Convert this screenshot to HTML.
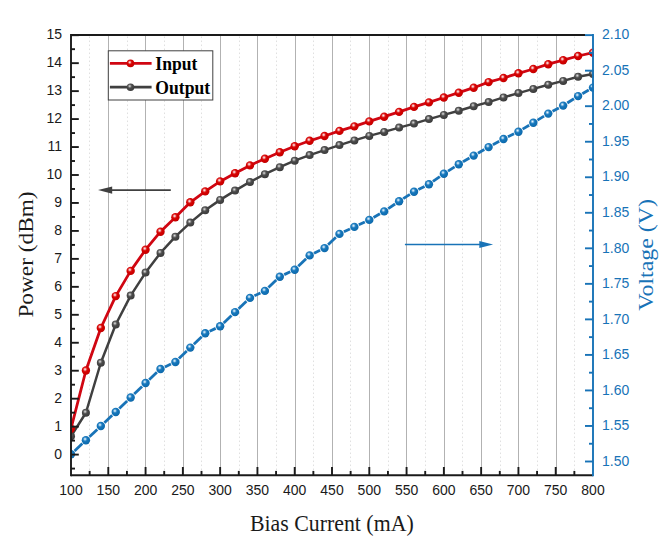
<!DOCTYPE html>
<html><head><meta charset="utf-8"><title>chart</title>
<style>
html,body{margin:0;padding:0;background:#fff;}
body{width:668px;height:545px;overflow:hidden;font-family:"Liberation Sans",sans-serif;}
svg{display:block;}
.t{font-family:"Liberation Sans",sans-serif;font-size:14px;}
.s{font-family:"Liberation Serif",serif;}
</style></head><body>
<svg width="668" height="545" viewBox="0 0 668 545">
<defs>
<radialGradient id="gr" cx="0.40" cy="0.36" r="0.66"><stop offset="0" stop-color="#fff0f0"/><stop offset="0.14" stop-color="#f4b0b0"/><stop offset="0.34" stop-color="#dc2020"/><stop offset="0.5" stop-color="#d40000"/><stop offset="0.85" stop-color="#cc0000"/><stop offset="1" stop-color="#b80000"/></radialGradient>
<radialGradient id="gg" cx="0.40" cy="0.36" r="0.66"><stop offset="0" stop-color="#e0e0e0"/><stop offset="0.14" stop-color="#b0b0b0"/><stop offset="0.34" stop-color="#606060"/><stop offset="0.5" stop-color="#484848"/><stop offset="0.85" stop-color="#404040"/><stop offset="1" stop-color="#343434"/></radialGradient>
<radialGradient id="gb" cx="0.40" cy="0.36" r="0.66"><stop offset="0" stop-color="#e8f4fc"/><stop offset="0.14" stop-color="#a8d0ec"/><stop offset="0.34" stop-color="#2a84c4"/><stop offset="0.5" stop-color="#1474b8"/><stop offset="0.85" stop-color="#0e6eb2"/><stop offset="1" stop-color="#0a60a0"/></radialGradient>
<clipPath id="cp"><rect x="71.00" y="35.00" width="522.80" height="440.30"/></clipPath>
</defs>
<rect width="668" height="545" fill="#fff"/>
<line x1="89.50" y1="36.50" x2="89.50" y2="475.30" stroke="#e0e0e0" stroke-width="1" stroke-dasharray="1.6,2.4"/>
<line x1="127.50" y1="36.50" x2="127.50" y2="475.30" stroke="#e0e0e0" stroke-width="1" stroke-dasharray="1.6,2.4"/>
<line x1="164.50" y1="36.50" x2="164.50" y2="475.30" stroke="#e0e0e0" stroke-width="1" stroke-dasharray="1.6,2.4"/>
<line x1="201.50" y1="36.50" x2="201.50" y2="475.30" stroke="#e0e0e0" stroke-width="1" stroke-dasharray="1.6,2.4"/>
<line x1="239.50" y1="36.50" x2="239.50" y2="475.30" stroke="#e0e0e0" stroke-width="1" stroke-dasharray="1.6,2.4"/>
<line x1="276.50" y1="36.50" x2="276.50" y2="475.30" stroke="#e0e0e0" stroke-width="1" stroke-dasharray="1.6,2.4"/>
<line x1="313.50" y1="36.50" x2="313.50" y2="475.30" stroke="#e0e0e0" stroke-width="1" stroke-dasharray="1.6,2.4"/>
<line x1="350.50" y1="36.50" x2="350.50" y2="475.30" stroke="#e0e0e0" stroke-width="1" stroke-dasharray="1.6,2.4"/>
<line x1="388.50" y1="36.50" x2="388.50" y2="475.30" stroke="#e0e0e0" stroke-width="1" stroke-dasharray="1.6,2.4"/>
<line x1="425.50" y1="36.50" x2="425.50" y2="475.30" stroke="#e0e0e0" stroke-width="1" stroke-dasharray="1.6,2.4"/>
<line x1="462.50" y1="36.50" x2="462.50" y2="475.30" stroke="#e0e0e0" stroke-width="1" stroke-dasharray="1.6,2.4"/>
<line x1="500.50" y1="36.50" x2="500.50" y2="475.30" stroke="#e0e0e0" stroke-width="1" stroke-dasharray="1.6,2.4"/>
<line x1="537.50" y1="36.50" x2="537.50" y2="475.30" stroke="#e0e0e0" stroke-width="1" stroke-dasharray="1.6,2.4"/>
<line x1="574.50" y1="36.50" x2="574.50" y2="475.30" stroke="#e0e0e0" stroke-width="1" stroke-dasharray="1.6,2.4"/>
<line x1="108.50" y1="35.00" x2="108.50" y2="475.30" stroke="#b2b2b2" stroke-width="1"/>
<line x1="145.50" y1="35.00" x2="145.50" y2="475.30" stroke="#b2b2b2" stroke-width="1"/>
<line x1="183.50" y1="35.00" x2="183.50" y2="475.30" stroke="#b2b2b2" stroke-width="1"/>
<line x1="220.50" y1="35.00" x2="220.50" y2="475.30" stroke="#b2b2b2" stroke-width="1"/>
<line x1="257.50" y1="35.00" x2="257.50" y2="475.30" stroke="#b2b2b2" stroke-width="1"/>
<line x1="295.50" y1="35.00" x2="295.50" y2="475.30" stroke="#b2b2b2" stroke-width="1"/>
<line x1="332.50" y1="35.00" x2="332.50" y2="475.30" stroke="#b2b2b2" stroke-width="1"/>
<line x1="369.50" y1="35.00" x2="369.50" y2="475.30" stroke="#b2b2b2" stroke-width="1"/>
<line x1="406.50" y1="35.00" x2="406.50" y2="475.30" stroke="#b2b2b2" stroke-width="1"/>
<line x1="444.50" y1="35.00" x2="444.50" y2="475.30" stroke="#b2b2b2" stroke-width="1"/>
<line x1="481.50" y1="35.00" x2="481.50" y2="475.30" stroke="#b2b2b2" stroke-width="1"/>
<line x1="518.50" y1="35.00" x2="518.50" y2="475.30" stroke="#b2b2b2" stroke-width="1"/>
<line x1="556.50" y1="35.00" x2="556.50" y2="475.30" stroke="#b2b2b2" stroke-width="1"/>
<g clip-path="url(#cp)"><g stroke="#1873b7" stroke-width="2.8" fill="none"><line x1="74.57" y1="450.90" x2="82.34" y2="443.60"/><line x1="89.46" y1="436.86" x2="97.29" y2="429.39"/><line x1="104.40" y1="422.65" x2="112.17" y2="415.35"/><line x1="119.26" y1="408.58" x2="127.14" y2="400.92"/><line x1="134.17" y1="394.08" x2="142.06" y2="386.42"/><line x1="149.14" y1="379.65" x2="156.91" y2="372.35"/><line x1="164.92" y1="366.92" x2="170.96" y2="364.08"/><line x1="178.93" y1="358.60" x2="186.79" y2="351.00"/><line x1="193.85" y1="344.21" x2="201.69" y2="336.69"/><line x1="209.66" y1="331.22" x2="215.71" y2="328.38"/><line x1="223.69" y1="322.92" x2="231.51" y2="315.48"/><line x1="238.61" y1="308.72" x2="246.42" y2="301.28"/><line x1="254.41" y1="295.82" x2="260.45" y2="292.98"/><line x1="268.43" y1="287.52" x2="276.25" y2="280.08"/><line x1="284.24" y1="274.62" x2="290.28" y2="271.78"/><line x1="298.25" y1="266.31" x2="306.09" y2="258.79"/><line x1="314.03" y1="253.25" x2="320.14" y2="250.25"/><line x1="328.09" y1="244.72" x2="335.91" y2="237.28"/><line x1="343.89" y1="231.82" x2="349.94" y2="228.98"/><line x1="358.81" y1="224.82" x2="364.85" y2="221.98"/><line x1="373.54" y1="217.47" x2="379.94" y2="213.83"/><line x1="388.24" y1="208.63" x2="395.07" y2="203.97"/><line x1="403.25" y1="198.57" x2="409.90" y2="194.33"/><line x1="418.41" y1="189.50" x2="424.57" y2="186.40"/><line x1="432.95" y1="181.38" x2="439.85" y2="176.52"/><line x1="448.00" y1="171.09" x2="454.63" y2="166.91"/><line x1="463.00" y1="161.83" x2="469.45" y2="158.07"/><line x1="477.94" y1="153.17" x2="484.34" y2="149.53"/><line x1="492.91" y1="144.76" x2="499.21" y2="141.34"/><line x1="507.92" y1="136.85" x2="514.03" y2="133.85"/><line x1="522.62" y1="129.17" x2="529.15" y2="125.23"/><line x1="537.53" y1="120.15" x2="544.07" y2="116.15"/><line x1="552.58" y1="111.28" x2="558.85" y2="107.92"/><line x1="567.30" y1="102.97" x2="573.95" y2="98.73"/><line x1="582.34" y1="93.67" x2="588.74" y2="90.03"/></g><circle cx="71.00" cy="454.25" r="4.2" fill="url(#gb)"/><circle cx="85.91" cy="440.25" r="4.2" fill="url(#gb)"/><circle cx="100.83" cy="426.00" r="4.2" fill="url(#gb)"/><circle cx="115.74" cy="412.00" r="4.2" fill="url(#gb)"/><circle cx="130.66" cy="397.50" r="4.2" fill="url(#gb)"/><circle cx="145.57" cy="383.00" r="4.2" fill="url(#gb)"/><circle cx="160.49" cy="369.00" r="4.2" fill="url(#gb)"/><circle cx="175.40" cy="362.00" r="4.2" fill="url(#gb)"/><circle cx="190.31" cy="347.60" r="4.2" fill="url(#gb)"/><circle cx="205.23" cy="333.30" r="4.2" fill="url(#gb)"/><circle cx="220.14" cy="326.30" r="4.2" fill="url(#gb)"/><circle cx="235.06" cy="312.10" r="4.2" fill="url(#gb)"/><circle cx="249.97" cy="297.90" r="4.2" fill="url(#gb)"/><circle cx="264.89" cy="290.90" r="4.2" fill="url(#gb)"/><circle cx="279.80" cy="276.70" r="4.2" fill="url(#gb)"/><circle cx="294.71" cy="269.70" r="4.2" fill="url(#gb)"/><circle cx="309.63" cy="255.40" r="4.2" fill="url(#gb)"/><circle cx="324.54" cy="248.10" r="4.2" fill="url(#gb)"/><circle cx="339.46" cy="233.90" r="4.2" fill="url(#gb)"/><circle cx="354.37" cy="226.90" r="4.2" fill="url(#gb)"/><circle cx="369.29" cy="219.90" r="4.2" fill="url(#gb)"/><circle cx="384.20" cy="211.40" r="4.2" fill="url(#gb)"/><circle cx="399.11" cy="201.20" r="4.2" fill="url(#gb)"/><circle cx="414.03" cy="191.70" r="4.2" fill="url(#gb)"/><circle cx="428.94" cy="184.20" r="4.2" fill="url(#gb)"/><circle cx="443.86" cy="173.70" r="4.2" fill="url(#gb)"/><circle cx="458.77" cy="164.30" r="4.2" fill="url(#gb)"/><circle cx="473.69" cy="155.60" r="4.2" fill="url(#gb)"/><circle cx="488.60" cy="147.10" r="4.2" fill="url(#gb)"/><circle cx="503.51" cy="139.00" r="4.2" fill="url(#gb)"/><circle cx="518.43" cy="131.70" r="4.2" fill="url(#gb)"/><circle cx="533.34" cy="122.70" r="4.2" fill="url(#gb)"/><circle cx="548.26" cy="113.60" r="4.2" fill="url(#gb)"/><circle cx="563.17" cy="105.60" r="4.2" fill="url(#gb)"/><circle cx="578.09" cy="96.10" r="4.2" fill="url(#gb)"/><circle cx="593.00" cy="87.60" r="4.2" fill="url(#gb)"/></g>
<g clip-path="url(#cp)"><polyline points="71.00,436.25 85.91,412.75 100.83,362.75 115.74,324.50 130.66,295.60 145.57,272.60 160.49,252.90 175.40,236.70 190.31,222.60 205.23,210.30 220.14,199.90 235.06,190.60 249.97,181.90 264.89,174.20 279.80,167.20 294.71,160.70 309.63,155.10 324.54,150.10 339.46,145.10 354.37,140.40 369.29,135.90 384.20,131.90 399.11,127.60 414.03,123.60 428.94,119.10 443.86,114.90 458.77,110.70 473.69,106.20 488.60,102.10 503.51,97.40 518.43,93.10 533.34,88.90 548.26,84.70 563.17,80.90 578.09,76.70 593.00,73.90" fill="none" stroke="#404040" stroke-width="2.5" stroke-linejoin="round"/><circle cx="71.00" cy="436.25" r="4.0" fill="url(#gg)"/><circle cx="85.91" cy="412.75" r="4.0" fill="url(#gg)"/><circle cx="100.83" cy="362.75" r="4.0" fill="url(#gg)"/><circle cx="115.74" cy="324.50" r="4.0" fill="url(#gg)"/><circle cx="130.66" cy="295.60" r="4.0" fill="url(#gg)"/><circle cx="145.57" cy="272.60" r="4.0" fill="url(#gg)"/><circle cx="160.49" cy="252.90" r="4.0" fill="url(#gg)"/><circle cx="175.40" cy="236.70" r="4.0" fill="url(#gg)"/><circle cx="190.31" cy="222.60" r="4.0" fill="url(#gg)"/><circle cx="205.23" cy="210.30" r="4.0" fill="url(#gg)"/><circle cx="220.14" cy="199.90" r="4.0" fill="url(#gg)"/><circle cx="235.06" cy="190.60" r="4.0" fill="url(#gg)"/><circle cx="249.97" cy="181.90" r="4.0" fill="url(#gg)"/><circle cx="264.89" cy="174.20" r="4.0" fill="url(#gg)"/><circle cx="279.80" cy="167.20" r="4.0" fill="url(#gg)"/><circle cx="294.71" cy="160.70" r="4.0" fill="url(#gg)"/><circle cx="309.63" cy="155.10" r="4.0" fill="url(#gg)"/><circle cx="324.54" cy="150.10" r="4.0" fill="url(#gg)"/><circle cx="339.46" cy="145.10" r="4.0" fill="url(#gg)"/><circle cx="354.37" cy="140.40" r="4.0" fill="url(#gg)"/><circle cx="369.29" cy="135.90" r="4.0" fill="url(#gg)"/><circle cx="384.20" cy="131.90" r="4.0" fill="url(#gg)"/><circle cx="399.11" cy="127.60" r="4.0" fill="url(#gg)"/><circle cx="414.03" cy="123.60" r="4.0" fill="url(#gg)"/><circle cx="428.94" cy="119.10" r="4.0" fill="url(#gg)"/><circle cx="443.86" cy="114.90" r="4.0" fill="url(#gg)"/><circle cx="458.77" cy="110.70" r="4.0" fill="url(#gg)"/><circle cx="473.69" cy="106.20" r="4.0" fill="url(#gg)"/><circle cx="488.60" cy="102.10" r="4.0" fill="url(#gg)"/><circle cx="503.51" cy="97.40" r="4.0" fill="url(#gg)"/><circle cx="518.43" cy="93.10" r="4.0" fill="url(#gg)"/><circle cx="533.34" cy="88.90" r="4.0" fill="url(#gg)"/><circle cx="548.26" cy="84.70" r="4.0" fill="url(#gg)"/><circle cx="563.17" cy="80.90" r="4.0" fill="url(#gg)"/><circle cx="578.09" cy="76.70" r="4.0" fill="url(#gg)"/><circle cx="593.00" cy="73.90" r="4.0" fill="url(#gg)"/></g>
<g clip-path="url(#cp)"><polyline points="71.00,428.75 85.91,370.50 100.83,328.00 115.74,296.10 130.66,270.90 145.57,249.70 160.49,231.70 175.40,217.20 190.31,202.30 205.23,191.40 220.14,181.40 235.06,173.20 249.97,165.40 264.89,158.70 279.80,152.20 294.71,146.20 309.63,140.80 324.54,136.00 339.46,130.90 354.37,126.40 369.29,121.40 384.20,116.70 399.11,111.90 414.03,106.90 428.94,102.40 443.86,97.50 458.77,92.70 473.69,87.70 488.60,82.10 503.51,78.00 518.43,73.30 533.34,69.00 548.26,64.20 563.17,60.20 578.09,56.00 593.00,52.70" fill="none" stroke="#d00612" stroke-width="2.8" stroke-linejoin="round"/><circle cx="71.00" cy="428.75" r="4.2" fill="url(#gr)"/><circle cx="85.91" cy="370.50" r="4.2" fill="url(#gr)"/><circle cx="100.83" cy="328.00" r="4.2" fill="url(#gr)"/><circle cx="115.74" cy="296.10" r="4.2" fill="url(#gr)"/><circle cx="130.66" cy="270.90" r="4.2" fill="url(#gr)"/><circle cx="145.57" cy="249.70" r="4.2" fill="url(#gr)"/><circle cx="160.49" cy="231.70" r="4.2" fill="url(#gr)"/><circle cx="175.40" cy="217.20" r="4.2" fill="url(#gr)"/><circle cx="190.31" cy="202.30" r="4.2" fill="url(#gr)"/><circle cx="205.23" cy="191.40" r="4.2" fill="url(#gr)"/><circle cx="220.14" cy="181.40" r="4.2" fill="url(#gr)"/><circle cx="235.06" cy="173.20" r="4.2" fill="url(#gr)"/><circle cx="249.97" cy="165.40" r="4.2" fill="url(#gr)"/><circle cx="264.89" cy="158.70" r="4.2" fill="url(#gr)"/><circle cx="279.80" cy="152.20" r="4.2" fill="url(#gr)"/><circle cx="294.71" cy="146.20" r="4.2" fill="url(#gr)"/><circle cx="309.63" cy="140.80" r="4.2" fill="url(#gr)"/><circle cx="324.54" cy="136.00" r="4.2" fill="url(#gr)"/><circle cx="339.46" cy="130.90" r="4.2" fill="url(#gr)"/><circle cx="354.37" cy="126.40" r="4.2" fill="url(#gr)"/><circle cx="369.29" cy="121.40" r="4.2" fill="url(#gr)"/><circle cx="384.20" cy="116.70" r="4.2" fill="url(#gr)"/><circle cx="399.11" cy="111.90" r="4.2" fill="url(#gr)"/><circle cx="414.03" cy="106.90" r="4.2" fill="url(#gr)"/><circle cx="428.94" cy="102.40" r="4.2" fill="url(#gr)"/><circle cx="443.86" cy="97.50" r="4.2" fill="url(#gr)"/><circle cx="458.77" cy="92.70" r="4.2" fill="url(#gr)"/><circle cx="473.69" cy="87.70" r="4.2" fill="url(#gr)"/><circle cx="488.60" cy="82.10" r="4.2" fill="url(#gr)"/><circle cx="503.51" cy="78.00" r="4.2" fill="url(#gr)"/><circle cx="518.43" cy="73.30" r="4.2" fill="url(#gr)"/><circle cx="533.34" cy="69.00" r="4.2" fill="url(#gr)"/><circle cx="548.26" cy="64.20" r="4.2" fill="url(#gr)"/><circle cx="563.17" cy="60.20" r="4.2" fill="url(#gr)"/><circle cx="578.09" cy="56.00" r="4.2" fill="url(#gr)"/><circle cx="593.00" cy="52.70" r="4.2" fill="url(#gr)"/></g>
<g stroke="#1a1a1a" stroke-width="1.9" fill="none" stroke-linecap="butt">
<line x1="71.00" y1="34.05" x2="71.00" y2="476.25"/>
<line x1="71.00" y1="475.30" x2="593.00" y2="475.30"/>
<line x1="71.00" y1="35.00" x2="585.00" y2="35.00"/>
<line x1="71.00" y1="468.58" x2="75.00" y2="468.58"/>
<line x1="71.00" y1="454.60" x2="78.80" y2="454.60"/>
<line x1="71.00" y1="440.62" x2="75.00" y2="440.62"/>
<line x1="71.00" y1="426.64" x2="78.80" y2="426.64"/>
<line x1="71.00" y1="412.66" x2="75.00" y2="412.66"/>
<line x1="71.00" y1="398.68" x2="78.80" y2="398.68"/>
<line x1="71.00" y1="384.70" x2="75.00" y2="384.70"/>
<line x1="71.00" y1="370.72" x2="78.80" y2="370.72"/>
<line x1="71.00" y1="356.74" x2="75.00" y2="356.74"/>
<line x1="71.00" y1="342.76" x2="78.80" y2="342.76"/>
<line x1="71.00" y1="328.78" x2="75.00" y2="328.78"/>
<line x1="71.00" y1="314.80" x2="78.80" y2="314.80"/>
<line x1="71.00" y1="300.82" x2="75.00" y2="300.82"/>
<line x1="71.00" y1="286.84" x2="78.80" y2="286.84"/>
<line x1="71.00" y1="272.86" x2="75.00" y2="272.86"/>
<line x1="71.00" y1="258.88" x2="78.80" y2="258.88"/>
<line x1="71.00" y1="244.90" x2="75.00" y2="244.90"/>
<line x1="71.00" y1="230.92" x2="78.80" y2="230.92"/>
<line x1="71.00" y1="216.94" x2="75.00" y2="216.94"/>
<line x1="71.00" y1="202.96" x2="78.80" y2="202.96"/>
<line x1="71.00" y1="188.98" x2="75.00" y2="188.98"/>
<line x1="71.00" y1="175.00" x2="78.80" y2="175.00"/>
<line x1="71.00" y1="161.02" x2="75.00" y2="161.02"/>
<line x1="71.00" y1="147.04" x2="78.80" y2="147.04"/>
<line x1="71.00" y1="133.06" x2="75.00" y2="133.06"/>
<line x1="71.00" y1="119.08" x2="78.80" y2="119.08"/>
<line x1="71.00" y1="105.10" x2="75.00" y2="105.10"/>
<line x1="71.00" y1="91.12" x2="78.80" y2="91.12"/>
<line x1="71.00" y1="77.14" x2="75.00" y2="77.14"/>
<line x1="71.00" y1="63.16" x2="78.80" y2="63.16"/>
<line x1="71.00" y1="49.18" x2="75.00" y2="49.18"/>
<line x1="71.00" y1="35.20" x2="78.80" y2="35.20"/>
<line x1="89.64" y1="475.30" x2="89.64" y2="470.90"/>
<line x1="108.29" y1="475.30" x2="108.29" y2="467.00"/>
<line x1="126.93" y1="475.30" x2="126.93" y2="470.90"/>
<line x1="145.57" y1="475.30" x2="145.57" y2="467.00"/>
<line x1="164.21" y1="475.30" x2="164.21" y2="470.90"/>
<line x1="182.86" y1="475.30" x2="182.86" y2="467.00"/>
<line x1="201.50" y1="475.30" x2="201.50" y2="470.90"/>
<line x1="220.14" y1="475.30" x2="220.14" y2="467.00"/>
<line x1="238.79" y1="475.30" x2="238.79" y2="470.90"/>
<line x1="257.43" y1="475.30" x2="257.43" y2="467.00"/>
<line x1="276.07" y1="475.30" x2="276.07" y2="470.90"/>
<line x1="294.71" y1="475.30" x2="294.71" y2="467.00"/>
<line x1="313.36" y1="475.30" x2="313.36" y2="470.90"/>
<line x1="332.00" y1="475.30" x2="332.00" y2="467.00"/>
<line x1="350.64" y1="475.30" x2="350.64" y2="470.90"/>
<line x1="369.29" y1="475.30" x2="369.29" y2="467.00"/>
<line x1="387.93" y1="475.30" x2="387.93" y2="470.90"/>
<line x1="406.57" y1="475.30" x2="406.57" y2="467.00"/>
<line x1="425.21" y1="475.30" x2="425.21" y2="470.90"/>
<line x1="443.86" y1="475.30" x2="443.86" y2="467.00"/>
<line x1="462.50" y1="475.30" x2="462.50" y2="470.90"/>
<line x1="481.14" y1="475.30" x2="481.14" y2="467.00"/>
<line x1="499.79" y1="475.30" x2="499.79" y2="470.90"/>
<line x1="518.43" y1="475.30" x2="518.43" y2="467.00"/>
<line x1="537.07" y1="475.30" x2="537.07" y2="470.90"/>
<line x1="555.71" y1="475.30" x2="555.71" y2="467.00"/>
<line x1="574.36" y1="475.30" x2="574.36" y2="470.90"/>
</g>
<g stroke="#1873b7" stroke-width="1.9" fill="none">
<line x1="593.00" y1="34.05" x2="593.00" y2="476.25"/>
<line x1="593.00" y1="461.50" x2="585.00" y2="461.50"/>
<line x1="593.00" y1="443.74" x2="589.00" y2="443.74"/>
<line x1="593.00" y1="425.97" x2="585.00" y2="425.97"/>
<line x1="593.00" y1="408.20" x2="589.00" y2="408.20"/>
<line x1="593.00" y1="390.44" x2="585.00" y2="390.44"/>
<line x1="593.00" y1="372.68" x2="589.00" y2="372.68"/>
<line x1="593.00" y1="354.91" x2="585.00" y2="354.91"/>
<line x1="593.00" y1="337.14" x2="589.00" y2="337.14"/>
<line x1="593.00" y1="319.38" x2="585.00" y2="319.38"/>
<line x1="593.00" y1="301.62" x2="589.00" y2="301.62"/>
<line x1="593.00" y1="283.85" x2="585.00" y2="283.85"/>
<line x1="593.00" y1="266.08" x2="589.00" y2="266.08"/>
<line x1="593.00" y1="248.32" x2="585.00" y2="248.32"/>
<line x1="593.00" y1="230.56" x2="589.00" y2="230.56"/>
<line x1="593.00" y1="212.79" x2="585.00" y2="212.79"/>
<line x1="593.00" y1="195.02" x2="589.00" y2="195.02"/>
<line x1="593.00" y1="177.26" x2="585.00" y2="177.26"/>
<line x1="593.00" y1="159.50" x2="589.00" y2="159.50"/>
<line x1="593.00" y1="141.73" x2="585.00" y2="141.73"/>
<line x1="593.00" y1="123.96" x2="589.00" y2="123.96"/>
<line x1="593.00" y1="106.20" x2="585.00" y2="106.20"/>
<line x1="593.00" y1="88.44" x2="589.00" y2="88.44"/>
<line x1="593.00" y1="70.67" x2="585.00" y2="70.67"/>
<line x1="593.00" y1="52.90" x2="589.00" y2="52.90"/>
<line x1="593.00" y1="35.14" x2="585.00" y2="35.14"/>
</g>
<text class="t" transform="translate(62,458.80) scale(1,1.04)" text-anchor="end" fill="#1a1a1a">0</text>
<text class="t" transform="translate(62,430.84) scale(1,1.04)" text-anchor="end" fill="#1a1a1a">1</text>
<text class="t" transform="translate(62,402.88) scale(1,1.04)" text-anchor="end" fill="#1a1a1a">2</text>
<text class="t" transform="translate(62,374.92) scale(1,1.04)" text-anchor="end" fill="#1a1a1a">3</text>
<text class="t" transform="translate(62,346.96) scale(1,1.04)" text-anchor="end" fill="#1a1a1a">4</text>
<text class="t" transform="translate(62,319.00) scale(1,1.04)" text-anchor="end" fill="#1a1a1a">5</text>
<text class="t" transform="translate(62,291.04) scale(1,1.04)" text-anchor="end" fill="#1a1a1a">6</text>
<text class="t" transform="translate(62,263.08) scale(1,1.04)" text-anchor="end" fill="#1a1a1a">7</text>
<text class="t" transform="translate(62,235.12) scale(1,1.04)" text-anchor="end" fill="#1a1a1a">8</text>
<text class="t" transform="translate(62,207.16) scale(1,1.04)" text-anchor="end" fill="#1a1a1a">9</text>
<text class="t" transform="translate(62,179.20) scale(1,1.04)" text-anchor="end" fill="#1a1a1a">10</text>
<text class="t" transform="translate(62,151.24) scale(1,1.04)" text-anchor="end" fill="#1a1a1a">11</text>
<text class="t" transform="translate(62,123.28) scale(1,1.04)" text-anchor="end" fill="#1a1a1a">12</text>
<text class="t" transform="translate(62,95.32) scale(1,1.04)" text-anchor="end" fill="#1a1a1a">13</text>
<text class="t" transform="translate(62,67.36) scale(1,1.04)" text-anchor="end" fill="#1a1a1a">14</text>
<text class="t" transform="translate(62,39.40) scale(1,1.04)" text-anchor="end" fill="#1a1a1a">15</text>
<text class="t" transform="translate(71.00,495.4) scale(1,1.04)" text-anchor="middle" fill="#1a1a1a">100</text>
<text class="t" transform="translate(108.29,495.4) scale(1,1.04)" text-anchor="middle" fill="#1a1a1a">150</text>
<text class="t" transform="translate(145.57,495.4) scale(1,1.04)" text-anchor="middle" fill="#1a1a1a">200</text>
<text class="t" transform="translate(182.86,495.4) scale(1,1.04)" text-anchor="middle" fill="#1a1a1a">250</text>
<text class="t" transform="translate(220.14,495.4) scale(1,1.04)" text-anchor="middle" fill="#1a1a1a">300</text>
<text class="t" transform="translate(257.43,495.4) scale(1,1.04)" text-anchor="middle" fill="#1a1a1a">350</text>
<text class="t" transform="translate(294.71,495.4) scale(1,1.04)" text-anchor="middle" fill="#1a1a1a">400</text>
<text class="t" transform="translate(332.00,495.4) scale(1,1.04)" text-anchor="middle" fill="#1a1a1a">450</text>
<text class="t" transform="translate(369.29,495.4) scale(1,1.04)" text-anchor="middle" fill="#1a1a1a">500</text>
<text class="t" transform="translate(406.57,495.4) scale(1,1.04)" text-anchor="middle" fill="#1a1a1a">550</text>
<text class="t" transform="translate(443.86,495.4) scale(1,1.04)" text-anchor="middle" fill="#1a1a1a">600</text>
<text class="t" transform="translate(481.14,495.4) scale(1,1.04)" text-anchor="middle" fill="#1a1a1a">650</text>
<text class="t" transform="translate(518.43,495.4) scale(1,1.04)" text-anchor="middle" fill="#1a1a1a">700</text>
<text class="t" transform="translate(555.71,495.4) scale(1,1.04)" text-anchor="middle" fill="#1a1a1a">750</text>
<text class="t" transform="translate(593.00,495.4) scale(1,1.04)" text-anchor="middle" fill="#1a1a1a">800</text>
<text class="t" transform="translate(602,465.70) scale(1,1.04)" fill="#1873b7">1.50</text>
<text class="t" transform="translate(602,430.17) scale(1,1.04)" fill="#1873b7">1.55</text>
<text class="t" transform="translate(602,394.64) scale(1,1.04)" fill="#1873b7">1.60</text>
<text class="t" transform="translate(602,359.11) scale(1,1.04)" fill="#1873b7">1.65</text>
<text class="t" transform="translate(602,323.58) scale(1,1.04)" fill="#1873b7">1.70</text>
<text class="t" transform="translate(602,288.05) scale(1,1.04)" fill="#1873b7">1.75</text>
<text class="t" transform="translate(602,252.52) scale(1,1.04)" fill="#1873b7">1.80</text>
<text class="t" transform="translate(602,216.99) scale(1,1.04)" fill="#1873b7">1.85</text>
<text class="t" transform="translate(602,181.46) scale(1,1.04)" fill="#1873b7">1.90</text>
<text class="t" transform="translate(602,145.93) scale(1,1.04)" fill="#1873b7">1.95</text>
<text class="t" transform="translate(602,110.40) scale(1,1.04)" fill="#1873b7">2.00</text>
<text class="t" transform="translate(602,74.87) scale(1,1.04)" fill="#1873b7">2.05</text>
<text class="t" transform="translate(602,39.34) scale(1,1.04)" fill="#1873b7">2.10</text>
<text class="s" transform="translate(331.8,530.8) scale(1,1.06)" font-size="21.85" text-anchor="middle" fill="#1a1a1a">Bias Current (mA)</text>
<text class="s" transform="translate(33,254.5) rotate(-90) scale(1.06,1)" font-size="22" text-anchor="middle" fill="#1a1a1a">Power (dBm)</text>
<text class="s" transform="translate(653.4,254.9) rotate(-90) scale(1.085,1)" font-size="22" text-anchor="middle" fill="#1873b7">Voltage (V)</text>
<line x1="111" y1="190.1" x2="170.8" y2="190.1" stroke="#404040" stroke-width="1.6"/>
<polygon points="98.0,190.1 112.2,186.5 112.2,193.7" fill="#404040"/>
<line x1="404.9" y1="244.5" x2="481" y2="244.5" stroke="#1873b7" stroke-width="1.6"/>
<polygon points="493.1,244.5 479.3,241 479.3,248" fill="#1873b7"/>
<rect x="108.3" y="50.8" width="104.5" height="49.2" fill="#fff" stroke="#404040" stroke-width="1"/>
<line x1="109.9" y1="63.4" x2="151.6" y2="63.4" stroke="#d00612" stroke-width="2.8"/>
<circle cx="130.5" cy="63.4" r="3.8" fill="url(#gr)"/>
<line x1="109.9" y1="87.2" x2="151.6" y2="87.2" stroke="#404040" stroke-width="2.8"/>
<circle cx="130.5" cy="87.2" r="3.8" fill="url(#gg)"/>
<text class="s" transform="translate(155.3,69.7) scale(1,1.07)" font-size="17.6" font-weight="bold" fill="#000">Input</text>
<text class="s" transform="translate(155.3,93.5) scale(1,1.07)" font-size="17.6" font-weight="bold" fill="#000">Output</text>
</svg></body></html>
